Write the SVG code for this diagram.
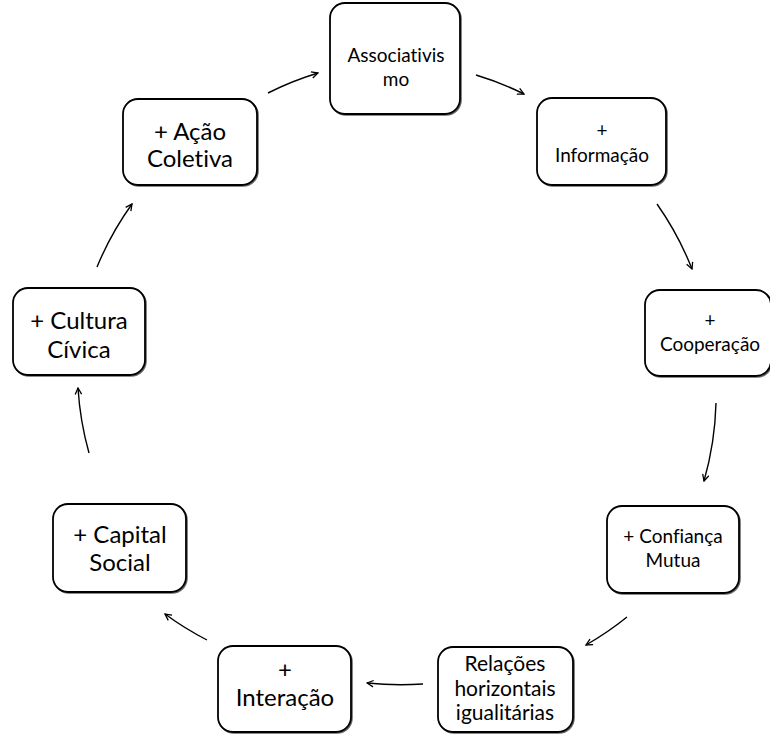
<svg xmlns="http://www.w3.org/2000/svg" width="770" height="734" viewBox="0 0 770 734">
<defs>
<style>
.box{fill:#fff;stroke:#000;stroke-width:1.8}
.sh{fill:none;stroke:#666;stroke-width:1.6}
.t{font-family:Lato,"Liberation Sans",sans-serif;fill:#000;text-anchor:middle;font-variant-ligatures:none;font-feature-settings:"liga" 0}
.b{font-size:24px}
.s{font-size:19px}
.r{font-size:21px}
.c{fill:none;stroke:#000;stroke-width:1.4}
</style>
<marker id="ah" viewBox="0 0 10 10" refX="9" refY="5" markerWidth="8" markerHeight="8" markerUnits="userSpaceOnUse" orient="auto">
<path d="M1,1 L9,5 L1,9" fill="none" stroke="#000" stroke-width="1.6"/>
</marker>
</defs>
<rect width="770" height="734" fill="#fff"/>
<g id="connectors">
<path class="c" d="M268,93 A312,312 0 0 1 318,73" marker-end="url(#ah)"/>
<path class="c" d="M476,75 A312,312 0 0 1 524,94" marker-end="url(#ah)"/>
<path class="c" d="M657,204 A312,312 0 0 1 692,269" marker-end="url(#ah)"/>
<path class="c" d="M716,403 A312,312 0 0 1 704,481" marker-end="url(#ah)"/>
<path class="c" d="M627,617 A312,312 0 0 1 586,645" marker-end="url(#ah)"/>
<path class="c" d="M423,684 A312,312 0 0 1 367,683" marker-end="url(#ah)"/>
<path class="c" d="M207,640 A312,312 0 0 1 165,614" marker-end="url(#ah)"/>
<path class="c" d="M89,453 A312,312 0 0 1 78,388" marker-end="url(#ah)"/>
<path class="c" d="M97,267 A312,312 0 0 1 132,204" marker-end="url(#ah)"/>
</g>
<g id="n1">
<rect class="sh" x="331" y="4" width="130" height="111" rx="15"/>
<rect class="box" x="330" y="3" width="130" height="111" rx="15"/>
<text class="t s" x="396" y="62">Associativis</text>
<text class="t s" x="396" y="86">mo</text>
</g>
<g id="n2">
<rect class="sh" x="538" y="99" width="129" height="87" rx="15"/>
<rect class="box" x="537" y="98" width="129" height="87" rx="15"/>
<text class="t s" x="602" y="137">+</text>
<text class="t s" x="602" y="162">Informação</text>
</g>
<g id="n3">
<rect class="sh" x="646" y="291" width="126" height="86" rx="15"/>
<rect class="box" x="645" y="290" width="126" height="86" rx="15"/>
<text class="t s" x="710" y="327">+</text>
<text class="t s" x="710" y="351">Cooperação</text>
</g>
<g id="n4">
<rect class="sh" x="608" y="507" width="132" height="87" rx="15"/>
<rect class="box" x="607" y="506" width="132" height="87" rx="15"/>
<text class="t s" x="673" y="543">+ Confiança</text>
<text class="t s" x="673" y="567">Mutua</text>
</g>
<g id="n5">
<rect class="sh" x="439" y="648" width="135" height="85" rx="15"/>
<rect class="box" x="438" y="647" width="135" height="85" rx="15"/>
<text class="t r" x="505" y="671">Relações</text>
<text class="t r" x="505" y="696">horizontais</text>
<text class="t r" x="505" y="720">igualitárias</text>
</g>
<g id="n6">
<rect class="sh" x="219" y="647" width="133" height="86" rx="15"/>
<rect class="box" x="218" y="646" width="133" height="86" rx="15"/>
<text class="t b" x="285" y="678">+</text>
<text class="t b" x="285" y="706">Interação</text>
</g>
<g id="n7">
<rect class="sh" x="54" y="505" width="133" height="88" rx="15"/>
<rect class="box" x="53" y="504" width="133" height="88" rx="15"/>
<text class="t b" x="120" y="543">+ Capital</text>
<text class="t b" x="120" y="571">Social</text>
</g>
<g id="n8">
<rect class="sh" x="14" y="289" width="132" height="87" rx="15"/>
<rect class="box" x="13" y="288" width="132" height="87" rx="15"/>
<text class="t b" x="79" y="329">+ Cultura</text>
<text class="t b" x="79" y="358">Cívica</text>
</g>
<g id="n9">
<rect class="sh" x="124" y="100" width="134" height="86" rx="15"/>
<rect class="box" x="123" y="99" width="134" height="86" rx="15"/>
<text class="t b" x="190" y="140">+ Ação</text>
<text class="t b" x="190" y="167">Coletiva</text>
</g>
</svg>
